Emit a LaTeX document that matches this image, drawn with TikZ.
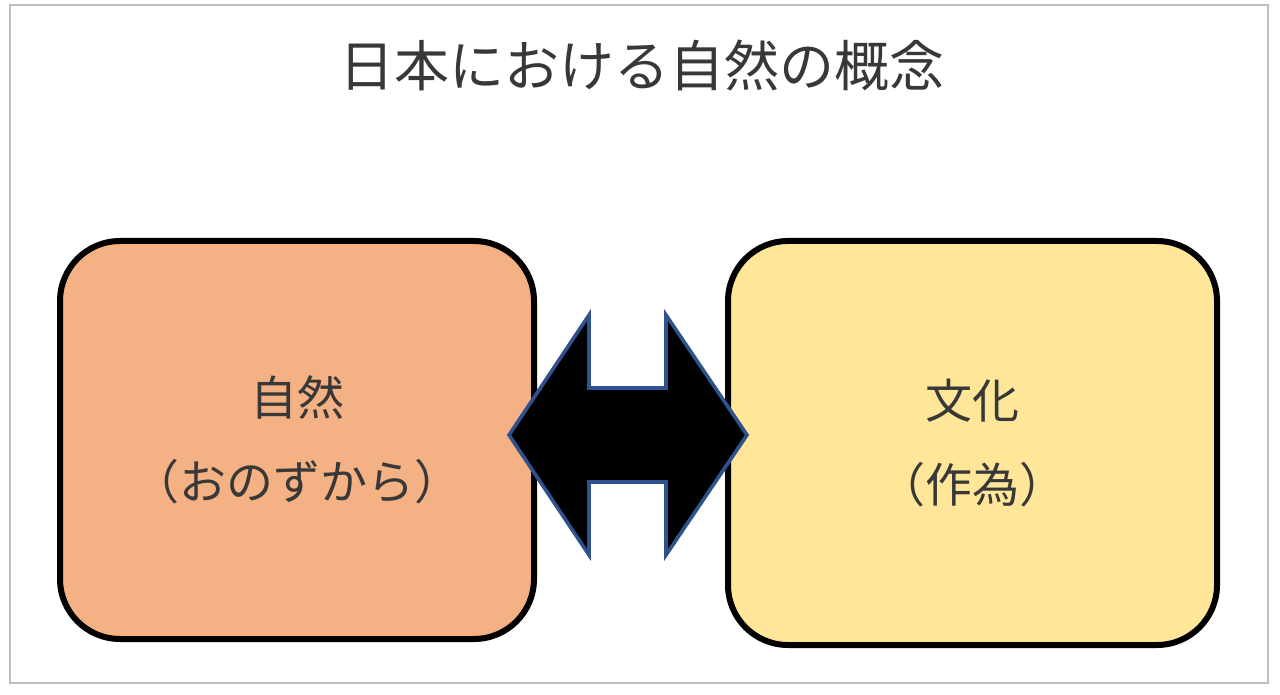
\documentclass[tikz,border=0pt]{standalone}
\usepackage{fontspec}
\setmainfont{Noto Sans CJK JP}
\usepackage{xcolor}
\usetikzlibrary{positioning}
\definecolor{naturefill}{HTML}{F4B183}
\definecolor{culturefill}{HTML}{FFE699}
\definecolor{arrowline}{HTML}{2F528F}
\definecolor{framegray}{HTML}{BFBFBF}

\begin{document}
\begin{tikzpicture}[x=0.5pt, y=-0.5pt,
        box/.style={draw, line width=3pt, rectangle, rounded corners=30pt, align=center,
            text=black!78, font=\fontsize{23.5}{42}\selectfont},
        heading/.style={text=black!78, font=\fontsize{27.5}{33}\selectfont},
        dblarrow/.style={draw=arrowline, line width=1.8pt, fill=black, line join=miter}
    ]
        \useasboundingbox (0,0) rectangle (1280,695);
        \draw [framegray, line width=1.2pt] (10,5) rectangle (1268,683);

        \node [heading] (title) at (642,65) {日本における自然の概念};

        \node [box, fill=naturefill, minimum width=237pt, minimum height=199pt] (nature) at (297,440)
            {自然\\（おのずから）};
        \node [box, fill=culturefill, minimum width=244.5pt, minimum height=202pt,
            right=94pt of nature, yshift=-1.5pt] (culture) {文化\\（作為）};

        % double arrow between the two boxes
        \draw [dblarrow] (509,435) -- (589,315) -- (589,388) -- (666,388) -- (666,315)
            -- (747,435) -- (666,555) -- (666,482) -- (589,482) -- (589,555) -- cycle;
\end{tikzpicture}
\end{document}
